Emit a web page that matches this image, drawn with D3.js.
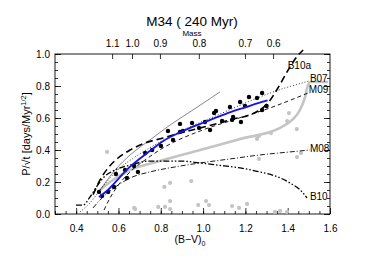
<!DOCTYPE html>
<html>
  <head>
    <meta charset="utf-8">
    <title>M34 (240 Myr)</title>
    <script src="https://d3js.org/d3.v7.min.js"></script>
    <style>
      body { margin: 0; background: #fff; }
      svg { font-family: "Liberation Sans", Arial, sans-serif; }
      .axis text { font-size: 10px; fill: #000; }
      .axis line { stroke: #000; stroke-width: 0.8; }
      .axis path { display: none; }
    </style>
  </head>
  <body>
    <svg id="chart" width="366" height="256"></svg>
    <script>
      // values
      memberBV = [0.508, 0.522, 0.551, 0.579, 0.588, 0.631, 0.640, 0.674, 0.692, 0.726, 0.759, 0.801, 0.834, 0.858, 0.891, 0.891, 0.905, 0.948, 0.981, 1.009, 1.033, 1.052, 1.061, 1.090, 1.127, 1.137, 1.142, 1.175, 1.179, 1.198, 1.217, 1.255, 1.279, 1.279, 1.300];
      memberP = [0.138, 0.113, 0.138, 0.169, 0.250, 0.275, 0.225, 0.300, 0.263, 0.381, 0.400, 0.425, 0.519, 0.463, 0.563, 0.513, 0.519, 0.569, 0.538, 0.575, 0.525, 0.631, 0.644, 0.581, 0.669, 0.588, 0.606, 0.700, 0.575, 0.675, 0.731, 0.725, 0.756, 0.650, 0.675];
      otherBV = [0.546, 0.674, 0.679, 0.788, 0.817, 0.844, 0.820, 0.844, 0.844, 0.944, 0.977, 1.014, 1.028, 1.137, 1.170, 1.208, 1.264, 1.364, 1.444, 1.463, 1.340, 1.321, 1.397, 1.443, 1.406, 1.264, 1.255, 1.397];
      otherP = [0.388, 0.038, 0.031, 0.044, 0.169, 0.194, 0.044, 0.031, 0.081, 0.206, 0.056, 0.081, 0.056, 0.050, 0.038, 0.063, 0.344, 0.019, 0.356, 0.381, 0.013, 0.506, 0.581, 0.531, 0.631, 0.488, 0.469, 0.013];
      blueFit = [[0.508, 0.106], [0.55, 0.15], [0.60, 0.22], [0.65, 0.29], [0.70, 0.345], [0.75, 0.395], [0.81, 0.455], [0.89, 0.51], [0.95, 0.545], [1.01, 0.575], [1.07, 0.607], [1.13, 0.637], [1.20, 0.667], [1.26, 0.693], [1.305, 0.71]];
      grayFit = [[0.503, 0.138], [0.56, 0.20], [0.655, 0.275], [0.796, 0.331], [0.986, 0.40], [1.175, 0.469], [1.364, 0.538], [1.421, 0.588], [1.458, 0.65], [1.482, 0.731], [1.496, 0.806], [1.51, 0.825], [1.591, 0.825]];
      thinFit = [[0.513, 0.15], [0.584, 0.275], [0.655, 0.369], [0.749, 0.463], [0.844, 0.556], [0.938, 0.638], [1.009, 0.70], [1.08, 0.763]];
      b10a = [[0.48, 0.12], [0.513, 0.213], [0.551, 0.288], [0.598, 0.35], [0.655, 0.40], [0.726, 0.444], [0.811, 0.475], [0.891, 0.506], [0.986, 0.538], [1.127, 0.588], [1.26, 0.644], [1.307, 0.694], [1.354, 0.788], [1.397, 0.888], [1.435, 0.969], [1.473, 1.025]];
      b07 = [[0.418, 0.013], [0.465, 0.069], [0.513, 0.15], [0.56, 0.225], [0.607, 0.288], [0.678, 0.356], [0.796, 0.45], [0.938, 0.544], [1.08, 0.625], [1.222, 0.706], [1.317, 0.756], [1.501, 0.831]];
      m09 = [[0.532, 0.025], [0.56, 0.10], [0.593, 0.169], [0.655, 0.263], [0.726, 0.338], [0.811, 0.413], [0.986, 0.519], [1.142, 0.588], [1.302, 0.656], [1.496, 0.756]];
      m08 = [[0.48, 0.038], [0.513, 0.088], [0.56, 0.144], [0.607, 0.188], [0.655, 0.225], [0.749, 0.263], [0.867, 0.294], [0.986, 0.319], [1.127, 0.344], [1.269, 0.369], [1.411, 0.388], [1.506, 0.40]];
      b10 = [[0.399, 0.056], [0.432, 0.056], [0.465, 0.106], [0.499, 0.175], [0.532, 0.231], [0.584, 0.275], [0.655, 0.306], [0.749, 0.331], [0.891, 0.331], [0.986, 0.319], [1.066, 0.306], [1.175, 0.288], [1.269, 0.263], [1.34, 0.238], [1.411, 0.194], [1.473, 0.131], [1.491, 0.10]];
      massLabels = ["1.1", "1.0", "0.9", "0.8", "0.7", "0.6"];
      massBV = [0.57, 0.664, 0.796, 0.98, 1.198, 1.331];

      // scales
      svg = d3.select("#chart");
      margin = { top: 54, right: 36, bottom: 42, left: 55 };
      width = 366;
      height = 256;
      x = d3.scaleLinear().domain([0.3, 1.6]).range([margin.left, width - margin.right]);
      y = d3.scaleLinear().domain([0, 1]).range([height - margin.bottom, margin.top]);
      line = d3.line()
        .x(function(d) { return x(d[0]); })
        .y(function(d) { return y(d[1]); })
        .curve(d3.curveMonotoneX);

      // axes: minor and major ticks point inward
      xMinor = d3.range(0.3, 1.6001, 0.05);
      xMajor = d3.range(0.4, 1.6001, 0.2);
      yMinor = d3.range(0, 1.0001, 0.05);
      yMajor = d3.range(0, 1.0001, 0.2);
      function addAxis(axis, tx, ty) {
        svg.append("g").attr("class", "axis")
          .attr("transform", "translate(" + tx + "," + ty + ")")
          .call(axis);
      }
      addAxis(d3.axisBottom(x).tickValues(xMinor).tickSize(-3).tickFormat(""), 0, y(0));
      addAxis(d3.axisBottom(x).tickValues(xMajor).tickSize(-6).tickPadding(11).tickFormat(d3.format(".1f")), 0, y(0));
      addAxis(d3.axisLeft(y).tickValues(yMinor).tickSize(-3).tickFormat(""), x(0.3), 0);
      addAxis(d3.axisLeft(y).tickValues(yMajor).tickSize(-6).tickPadding(5).tickFormat(d3.format(".1f")), x(0.3), 0);
      addAxis(d3.axisRight(y).tickValues(yMinor).tickSize(-3).tickFormat(""), x(1.6), 0);
      addAxis(d3.axisRight(y).tickValues(yMajor).tickSize(-6).tickFormat(""), x(1.6), 0);
      addAxis(d3.axisTop(x).tickValues(massBV).tickSize(-5).tickPadding(7)
        .tickFormat(function(d, i) { return massLabels[i]; }), 0, y(1));

      // frame
      svg.append("rect")
        .attr("x", x(0.3)).attr("y", y(1))
        .attr("width", x(1.6) - x(0.3)).attr("height", y(0) - y(1))
        .attr("fill", "none").attr("stroke", "#000").attr("stroke-width", 0.9);

      // non-member dots
      svg.append("g").selectAll("circle")
        .data(otherBV)
        .enter().append("circle")
          .attr("cx", function(d) { return x(d); })
          .attr("cy", function(d, i) { return y(otherP[i]); })
          .attr("r", 2.1)
          .attr("fill", "#c4c4c4");

      // model curves
      curves = [
        { pts: grayFit, stroke: "#c4c4c4", w: 2.6, dash: null },
        { pts: thinFit, stroke: "#555", w: 0.7, dash: null },
        { pts: b07, stroke: "#000", w: 0.8, dash: "1,2" },
        { pts: m09, stroke: "#000", w: 0.9, dash: "4,3" },
        { pts: m08, stroke: "#000", w: 0.9, dash: "5,2,1,2" },
        { pts: b10, stroke: "#000", w: 1.3, dash: "6,2,1.5,2,1.5,2" },
        { pts: b10a, stroke: "#000", w: 1.6, dash: "7,4" }
      ];
      svg.append("g").selectAll("path")
        .data(curves)
        .enter().append("path")
          .attr("d", function(d) { return line(d.pts); })
          .attr("fill", "none")
          .attr("stroke", function(d) { return d.stroke; })
          .attr("stroke-width", function(d) { return d.w; })
          .attr("stroke-dasharray", function(d) { return d.dash; });

      // member dots and blue fit
      svg.append("g").selectAll("circle")
        .data(memberBV)
        .enter().append("circle")
          .attr("cx", function(d) { return x(d); })
          .attr("cy", function(d, i) { return y(memberP[i]); })
          .attr("r", 2.2)
          .attr("fill", "#000");
      svg.append("path")
        .attr("d", line(blueFit))
        .attr("fill", "none")
        .attr("stroke", "#1414e6")
        .attr("stroke-width", 1.8);

      // curve names
      names = [["B10a", 1.40, 0.905], ["B07", 1.505, 0.825], ["M09", 1.50, 0.755], ["M08", 1.505, 0.39], ["B10", 1.505, 0.09]];
      svg.append("g").selectAll("text")
        .data(names)
        .enter().append("text")
          .attr("x", function(d) { return x(d[1]); })
          .attr("y", function(d) { return y(d[2]); })
          .attr("font-size", "10px")
          .text(function(d) { return d[0]; });

      // titles
      svg.append("text")
        .attr("x", 192).attr("y", 26)
        .attr("text-anchor", "middle").attr("font-size", "13.5px")
        .text("M34 ( 240 Myr)");
      svg.append("text")
        .attr("x", 192).attr("y", 36)
        .attr("text-anchor", "middle").attr("font-size", "8px")
        .text("Mass");
      xLabel = svg.append("text")
        .attr("x", 190).attr("y", 243)
        .attr("text-anchor", "middle").attr("font-size", "10.5px");
      xLabel.append("tspan").text("(B\u2212V)");
      xLabel.append("tspan").attr("font-size", "7px").attr("dy", 3).text("0");
      yLabel = svg.append("text")
        .attr("transform", "translate(30," + ((y(0) + y(1)) / 2) + ") rotate(-90)")
        .attr("text-anchor", "middle").attr("font-size", "11px");
      yLabel.append("tspan").text("P/\u221At  [days/Myr");
      yLabel.append("tspan").attr("font-size", "7.5px").attr("dy", -4).text("1/2");
      yLabel.append("tspan").attr("dy", 4).text("]");
    </script>
  </body>
</html>
